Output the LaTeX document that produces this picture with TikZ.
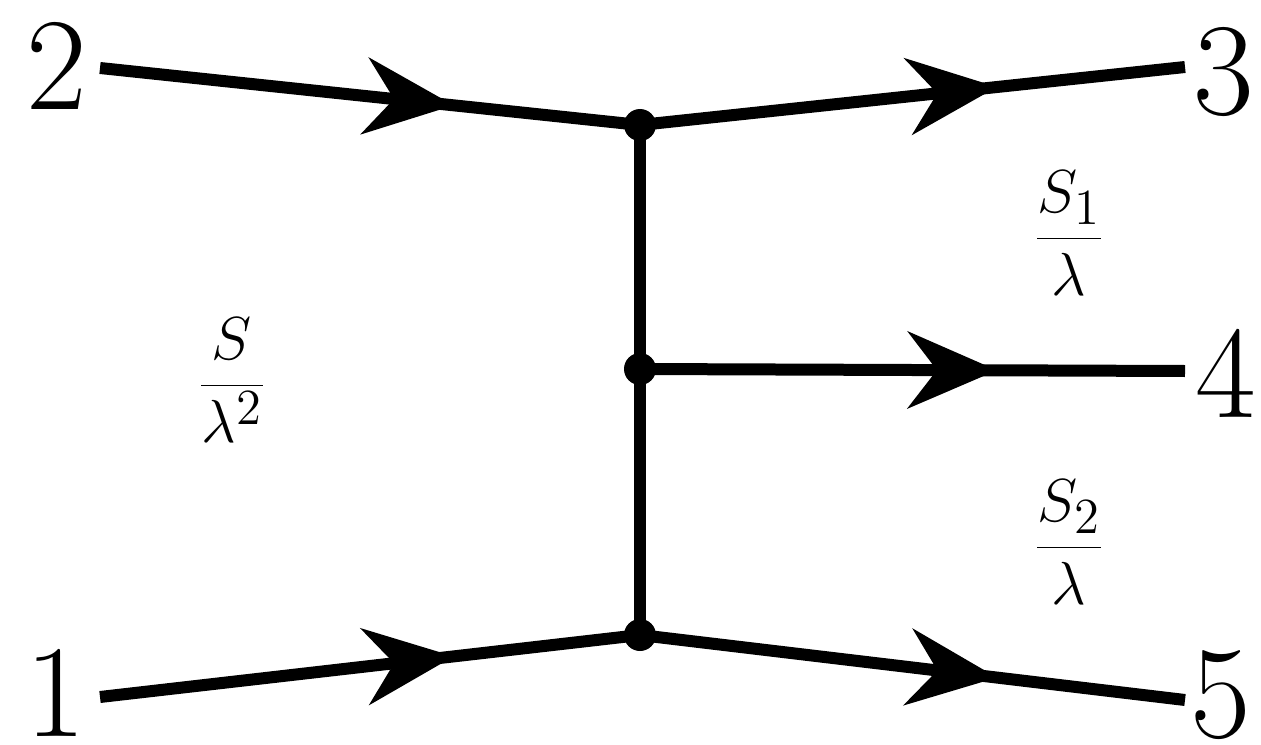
\documentclass[tikz,border=0pt]{standalone}
\usepackage{fontspec}
\usetikzlibrary{arrows.meta,decorations.markings}
\begin{document}
\begin{tikzpicture}[%
            myvertex/.style={shape=circle,fill=black,inner sep=0pt,minimum size=0.32cm},
            myline/.style={line width=0.12cm},
            myarrow/.style={postaction={decorate},decoration={markings,
                mark=at position 0.655 with {\arrow{Stealth[length=0.9cm,width=0.78cm,inset=0.3cm,line width=0pt]}}}},
            mylabel/.style={font=\fontsize{37.5}{45}\selectfont,inner sep=0pt},
            myfrac/.style={font=\fontsize{19}{23}\selectfont,inner sep=0pt}
    ]
        \useasboundingbox (0,0) rectangle (12.61,7.44);

        % vertices
        \node [myvertex] (v1) at (6.40,6.19) {};
        \node [myvertex] (v2) at (6.40,3.75) {};
        \node [myvertex] (v3) at (6.40,1.09) {};

        % ends of the external legs
        \coordinate (e2) at (1.00,6.76);
        \coordinate (e3) at (11.85,6.77);
        \coordinate (e4) at (11.85,3.73);
        \coordinate (e1) at (1.00,0.47);
        \coordinate (e5) at (11.85,0.44);

        \draw [myline] (v1.center) -- (v3.center);
        \draw [myline,myarrow] (e2) -- (v1.center);
        \draw [myline,myarrow] (v1.center) -- (e3);
        \draw [myline,myarrow] (v2.center) -- (e4);
        \draw [myline,myarrow] (e1) -- (v3.center);
        \draw [myline,myarrow] (v3.center) -- (e5);

        % particle labels
        \node [mylabel] (l2) at (0.57,6.78) {2};
        \node [mylabel] (l3) at (12.24,6.72) {3};
        \node [mylabel] (l4) at (12.26,3.71) {4};
        \node [mylabel] (l1) at (0.56,0.51) {1};
        \node [mylabel] (l5) at (12.21,0.49) {5};

        % invariants
        \node [myfrac] (s) at (2.32,3.64) {$\displaystyle\frac{S}{\lambda^2}$};
        \node [myfrac] (s1) at (10.69,5.11) {$\displaystyle\frac{S_1}{\lambda}$};
        \node [myfrac] (s2) at (10.69,2.02) {$\displaystyle\frac{S_2}{\lambda}$};
    \end{tikzpicture}
\end{document}
